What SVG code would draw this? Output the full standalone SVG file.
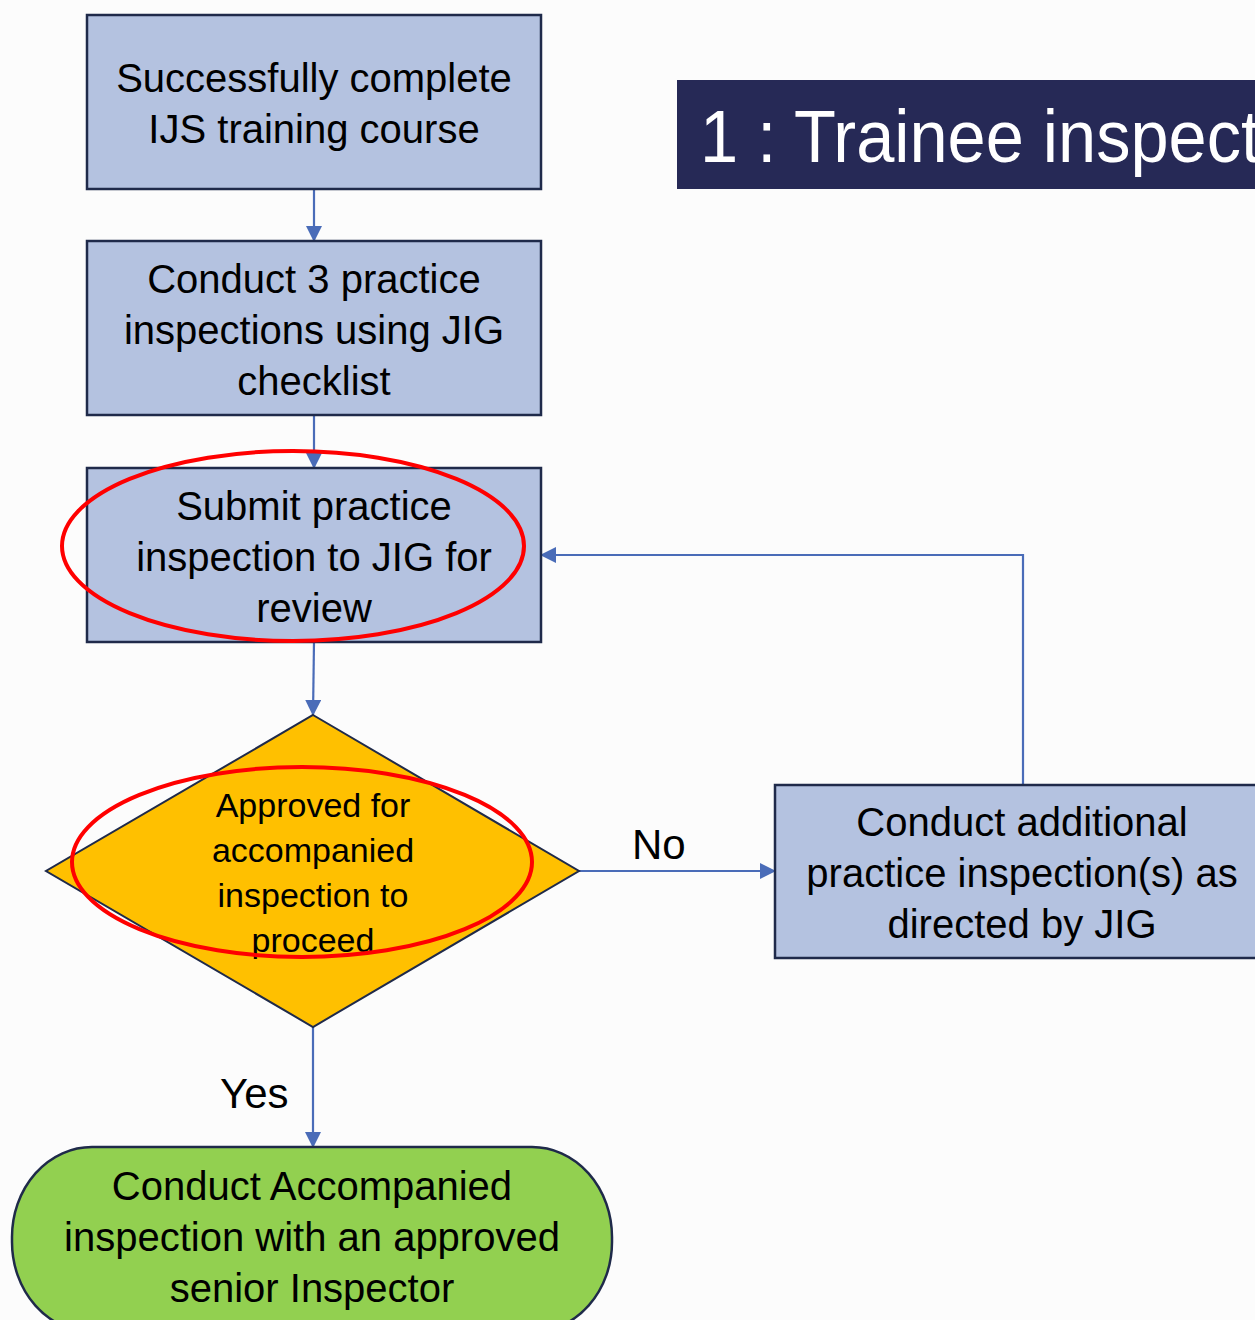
<svg xmlns="http://www.w3.org/2000/svg" width="1255" height="1320" viewBox="0 0 1255 1320">
<style>
.box{fill:#b4c2e0;stroke:#1f2a4a;stroke-width:2.5}
.dec{fill:#ffc000;stroke:#1f2a4a;stroke-width:2}
.term{fill:#92d050;stroke:#1f2a4a;stroke-width:2.5}
.t{font-family:"Liberation Sans",Arial,sans-serif;font-size:40px;fill:#000;text-anchor:middle}
.ts{font-family:"Liberation Sans",Arial,sans-serif;font-size:34px;fill:#000;text-anchor:middle}
.lbl{font-family:"Liberation Sans",Arial,sans-serif;font-size:42px;fill:#000}
.conn{fill:none;stroke:#4a6cb8;stroke-width:2.2}
.hl{fill:none;stroke:#f00;stroke-width:4}
</style>
<defs>
<marker id="arr" markerUnits="userSpaceOnUse" markerWidth="16" markerHeight="16" refX="15" refY="8" orient="auto">
<path d="M0,0 L16,8 L0,16 Z" fill="#4a6cb8"/>
</marker>
</defs>
<rect width="1255" height="1320" fill="#fcfcfc"/>
<g id="title">
<rect x="677" y="80" width="590" height="109" fill="#262956"/>
<text x="700" y="162" font-family="'Liberation Sans Narrow','Liberation Sans',Arial,sans-serif" font-size="75" fill="#fff" textLength="560" lengthAdjust="spacingAndGlyphs">1 : Trainee inspect</text>
</g>
<g id="connectors">
<path class="conn" d="M314,189 L314,241" marker-end="url(#arr)"/>
<path class="conn" d="M314,415 L314,468" marker-end="url(#arr)"/>
<path class="conn" d="M314,642 L313,715" marker-end="url(#arr)"/>
<path class="conn" d="M579,871 L775,871" marker-end="url(#arr)"/>
<path class="conn" d="M1023,785 L1023,555 L541,555" marker-end="url(#arr)"/>
<path class="conn" d="M313,1027 L313,1147" marker-end="url(#arr)"/>
<text class="lbl" x="632" y="859">No</text>
<text class="lbl" x="220" y="1108">Yes</text>
</g>
<g id="n1">
<rect class="box" x="87" y="15" width="454" height="174"/>
<text class="t" x="314" y="92">Successfully complete</text>
<text class="t" x="314" y="143">IJS training course</text>
</g>
<g id="n2">
<rect class="box" x="87" y="241" width="454" height="174"/>
<text class="t" x="314" y="293">Conduct 3 practice</text>
<text class="t" x="314" y="344">inspections using JIG</text>
<text class="t" x="314" y="395">checklist</text>
</g>
<g id="n3">
<rect class="box" x="87" y="468" width="454" height="174"/>
<text class="t" x="314" y="520">Submit practice</text>
<text class="t" x="314" y="571">inspection to JIG for</text>
<text class="t" x="314" y="622">review</text>
</g>
<g id="n4">
<polygon class="dec" points="313,715 579,871 313,1027 46,871"/>
<text class="ts" x="313" y="817">Approved for</text>
<text class="ts" x="313" y="862">accompanied</text>
<text class="ts" x="313" y="907">inspection to</text>
<text class="ts" x="313" y="952">proceed</text>
</g>
<g id="n5">
<rect class="box" x="775" y="785" width="490" height="173"/>
<text class="t" x="1022" y="836">Conduct additional</text>
<text class="t" x="1022" y="887">practice inspection(s) as</text>
<text class="t" x="1022" y="938">directed by JIG</text>
</g>
<g id="n6">
<rect class="term" x="12" y="1147" width="600" height="185" rx="80" ry="90"/>
<text class="t" x="312" y="1200">Conduct Accompanied</text>
<text class="t" x="312" y="1251">inspection with an approved</text>
<text class="t" x="312" y="1302">senior Inspector</text>
</g>
<g id="highlights">
<ellipse class="hl" cx="293" cy="546" rx="231" ry="95"/>
<ellipse class="hl" cx="302" cy="862" rx="230" ry="95"/>
</g>
</svg>
